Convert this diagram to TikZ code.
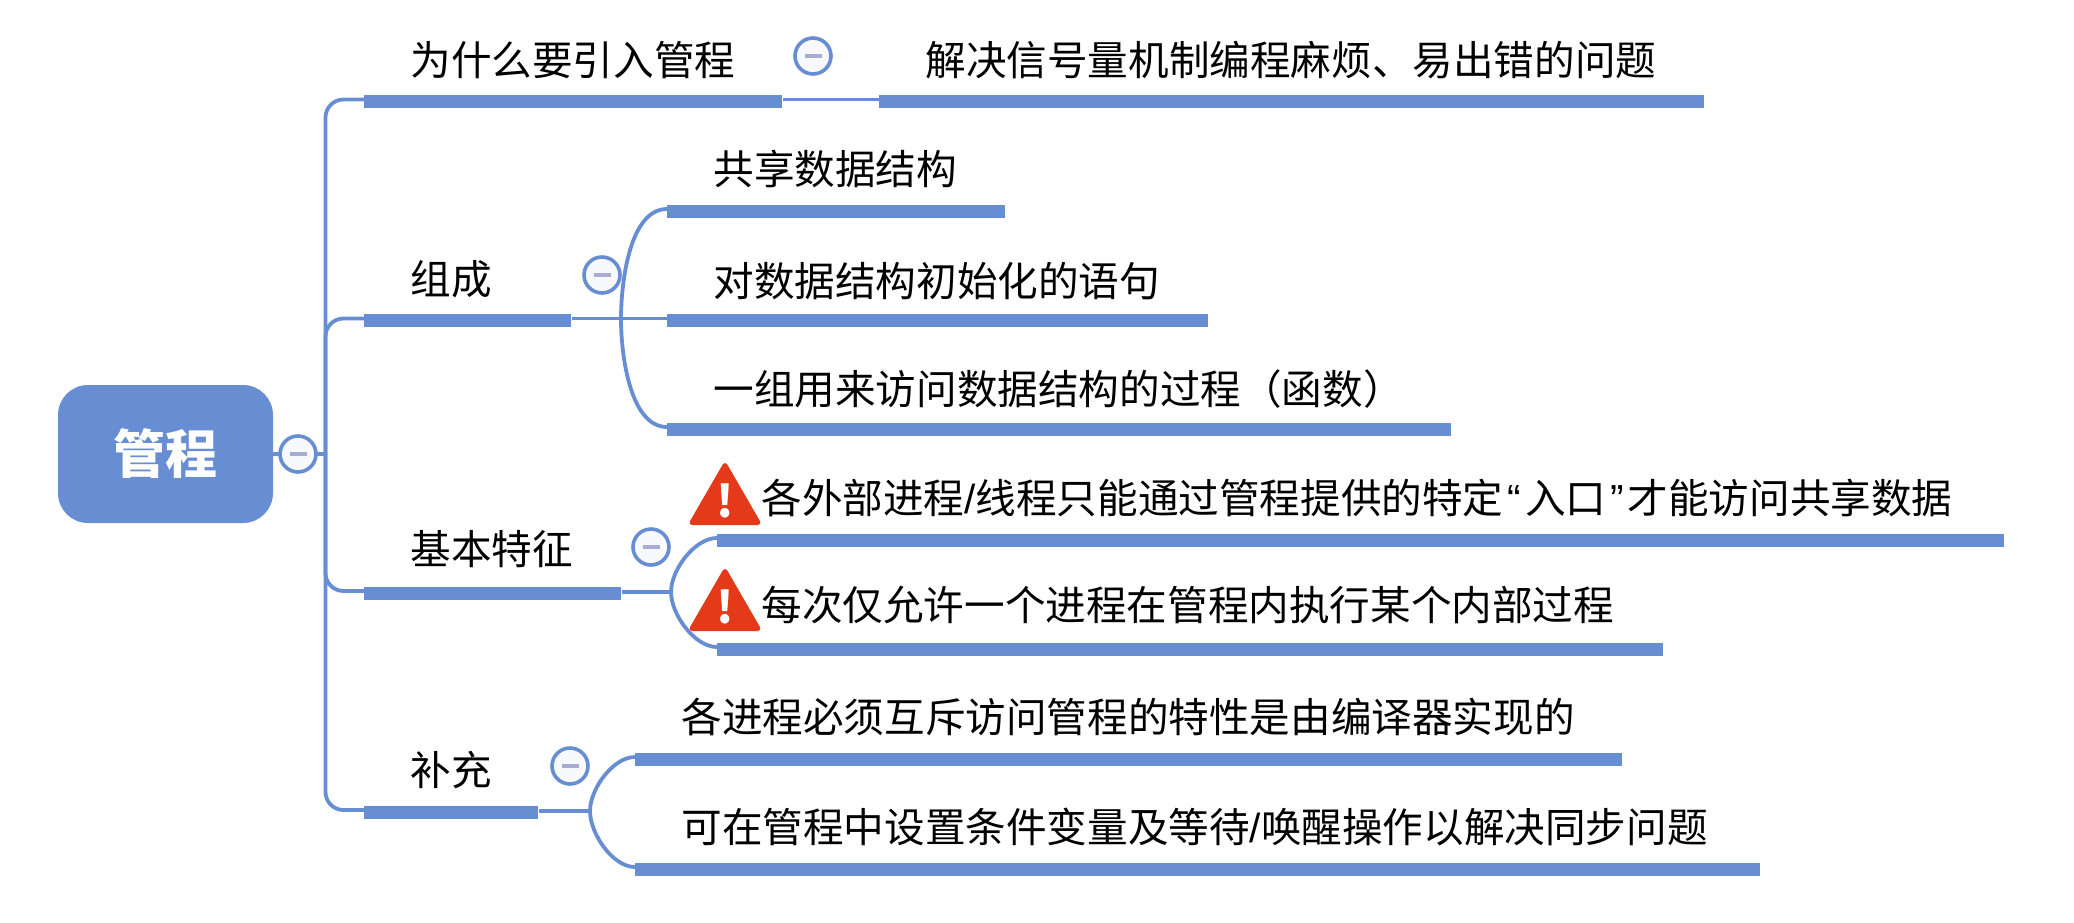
\documentclass[tikz,border=0pt]{standalone}
\usepackage{fontspec}
\setmainfont{Noto Sans CJK SC}
\newfontfamily\quotefont{Liberation Sans}
\usetikzlibrary{positioning, shapes.geometric}
\definecolor{mapblue}{HTML}{678DD3}
\definecolor{warnred}{HTML}{E43A19}
\definecolor{markgrey}{HTML}{A8ACD4}

\begin{document}
\begin{tikzpicture}[x=0.5pt,y=-0.5pt,
    bar/.style={fill=mapblue, inner sep=0pt, minimum height=6.5pt, anchor=west},
    txt/.style={font=\fontsize{20.3}{24}\selectfont, inner sep=0pt, text height=17.6pt, text depth=2.4pt, anchor=south west},
    root/.style={fill=mapblue, rounded corners=15pt, minimum width=107.5pt, minimum height=69pt, inner sep=0pt,
        text=white, font=\fontsize{26}{30}\selectfont\bfseries},
    fold/.style={circle, draw=mapblue, line width=1.8pt, fill=white!95!mapblue, minimum size=18pt, inner sep=0pt},
    foldmark/.style={fill=markgrey, minimum width=8.5pt, minimum height=2pt, inner sep=0pt},
    warn/.style={regular polygon, regular polygon sides=3, fill=warnred, draw=warnred, line width=2.5pt, line join=round,
        minimum size=38pt, inner sep=0pt},
    warnmark/.style={inner sep=0pt, text=white, font=\fontsize{22}{22}\selectfont\bfseries},
    link/.style={draw=mapblue, line width=1.9pt}]

    \useasboundingbox (0,0) rectangle (2074,922);

    % topics
    \node[root] (R) at (165.5,454) {管程};
    \node[bar, minimum width=209pt] (B1) at (364,101.5) {};
    \node[bar, minimum width=103.5pt] (B2) at (364,320.5) {};
    \node[bar, minimum width=128.5pt] (B3) at (364,593) {};
    \node[bar, minimum width=87pt] (B4) at (364,812) {};
    \node[bar, minimum width=412.5pt] (A1) at (879,101.5) {};

    % subtopics
    \node[bar, minimum width=169pt] (C1) at (667,211) {};
    \node[bar, minimum width=270.5pt] (C2) at (667,320.5) {};
    \node[bar, minimum width=392pt] (C3) at (667,429) {};
    \node[bar, minimum width=643.5pt] (D1) at (717,540) {};
    \node[bar, minimum width=473pt] (D2) at (717,649) {};
    \node[bar, minimum width=493.5pt] (E1) at (635,759) {};
    \node[bar, minimum width=562.5pt] (E2) at (635,869) {};

    % branch points
    \coordinate (T) at (325.5,454);
    \coordinate (J2) at (621,319);
    \coordinate (J3) at (671,592);
    \coordinate (J4) at (590,811);

    % connectors
    \path[link] (R) -- (T);
    \path[link, rounded corners=9pt] (T) |- ([yshift=1pt]B1.west);
    \path[link, rounded corners=9pt] (T) |- ([yshift=1pt]B2.west);
    \path[link, rounded corners=9pt] (T) |- ([yshift=1pt]B3.west);
    \path[link, rounded corners=9pt] (T) |- ([yshift=1pt]B4.west);
    \path[link] ([yshift=1pt]B1.east) -- ([yshift=1pt]A1.west);
    \path[link] ([yshift=1pt]B2.east) -- ([yshift=1pt]C2.west);
    \path[link] ([yshift=.5pt]B3.east) -- (J3);
    \path[link] ([yshift=.5pt]B4.east) -- (J4);
    \path[link] (J2) edge[out=90, in=180, looseness=.8] ([yshift=1pt]C1.west)
                (J2) edge[out=-90, in=180, looseness=.8] ([yshift=1pt]C3.west)
                (J3) edge[out=90, in=180, looseness=.8] ([yshift=1pt]D1.west)
                (J3) edge[out=-90, in=180, looseness=.8] ([yshift=1pt]D2.west)
                (J4) edge[out=90, in=180, looseness=.8] ([yshift=1pt]E1.west)
                (J4) edge[out=-90, in=180, looseness=.8] ([yshift=1pt]E2.west);

    % fold marks
    \foreach \name/\px/\py in {R/298/454, B1/813/56, B2/602/275, B3/651/547, B4/570/766} {
        \node[fold] (F\name) at (\px,\py) {};
        \node[foldmark] (M\name) at (F\name) {};
    }

    % labels
    \node[txt, above right=7pt and 23pt of B1.north west] (t1) {为什么要引入管程};
    \node[txt, above right=7pt and 23pt of B2.north west] (t2) {组成};
    \node[txt, above right=8pt and 23pt of B3.north west] (t3) {基本特征};
    \node[txt, above right=7pt and 23pt of B4.north west] (t4) {补充};
    \node[txt, above right=7pt and 23pt of A1.north west] (a1) {解决信号量机制编程麻烦、易出错的问题};
    \node[txt, above right=7pt and 23pt of C1.north west] (c1) {共享数据结构};
    \node[txt, above right=6pt and 23pt of C2.north west] (c2) {对数据结构初始化的语句};
    \node[txt, above right=6pt and 23pt of C3.north west] (c3) {一组用来访问数据结构的过程（函数）};
    \node[txt, above right=7pt and 22pt of D1.north west] (d1) {各外部进程{\quotefont /}线程只能通过管程提供的特定{\quotefont\kern2pt “\kern2pt}入口{\quotefont\kern2pt ”\kern2pt}才能访问共享数据};
    \node[txt, above right=8pt and 22pt of D2.north west] (d2) {每次仅允许一个进程在管程内执行某个内部过程};
    \node[txt, above right=7pt and 23pt of E1.north west] (e1) {各进程必须互斥访问管程的特性是由编译器实现的};
    \node[txt, above right=7pt and 23pt of E2.north west] (e2) {可在管程中设置条件变量及等待{\quotefont /}唤醒操作以解决同步问题};

    % warning marks
    \node[warn] (W1) at (725,503.5) {};
    \node[warn] (W2) at (725,609.5) {};
    \node[warnmark, above=1.5pt of W1.center, anchor=center] (X1) {!};
    \node[warnmark, above=1.5pt of W2.center, anchor=center] (X2) {!};
\end{tikzpicture}
\end{document}
